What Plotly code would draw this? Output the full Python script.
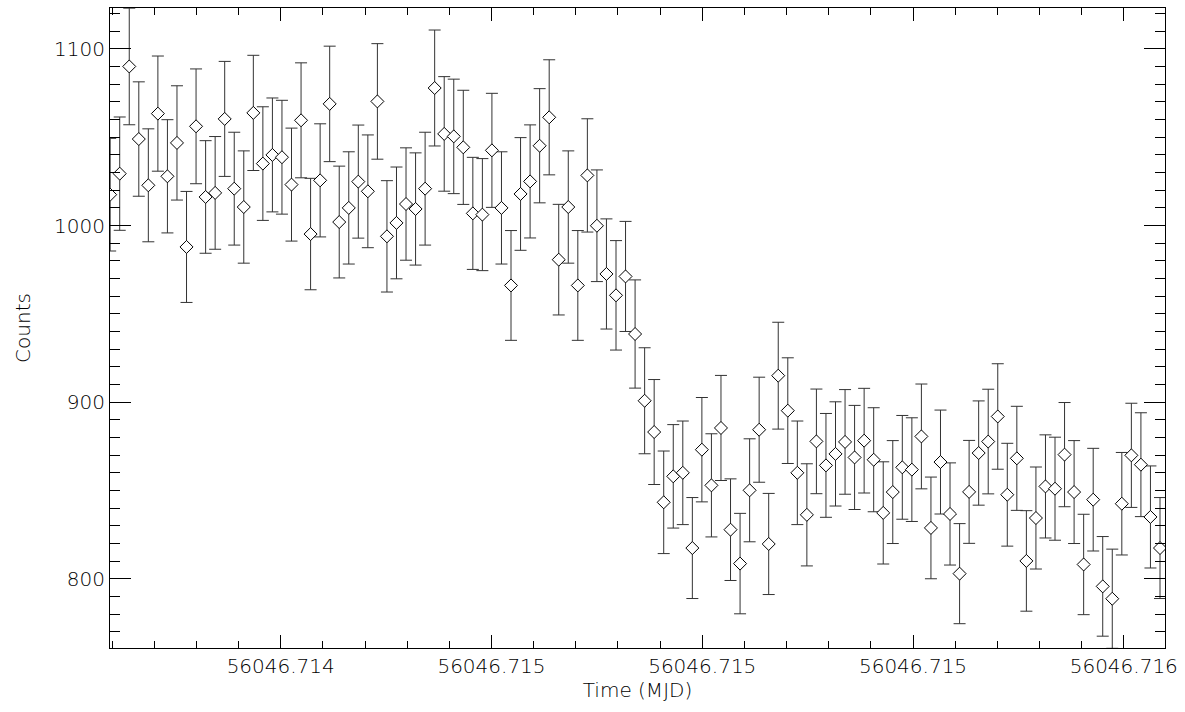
import numpy as np
import plotly.graph_objects as go

# Light curve: counts per time bin
counts = [
    1017.5, 1029.4, 1090.1, 1049.0, 1022.8, 1063.4, 1027.9, 1046.8, 987.9, 1056.2,
    1016.2, 1018.5, 1060.4, 1020.9, 1010.5, 1063.8, 1035.1, 1040.0, 1038.7, 1023.2,
    1059.6, 995.2, 1025.6, 1068.9, 1002.0, 1010.0, 1024.9, 1019.4, 1070.3, 993.9,
    1001.5, 1012.2, 1009.4, 1020.9, 1077.9, 1051.9, 1050.5, 1044.3, 1006.9, 1006.2,
    1042.6, 1010.0, 966.1, 1017.9, 1025.0, 1045.2, 1061.3, 980.7, 1010.5, 966.1,
    1028.4, 999.9, 972.6, 960.5, 971.2, 938.6, 900.8, 883.1, 843.3, 858.0,
    860.0, 817.4, 873.1, 852.9, 885.4, 827.8, 808.6, 850.1, 884.4, 819.7,
    915.0, 895.2, 860.0, 836.2, 877.8, 864.2, 870.7, 877.5, 868.7, 878.2,
    867.4, 837.3, 849.1, 863.1, 861.8, 880.6, 828.8, 866.1, 836.7, 802.9,
    849.2, 871.2, 877.7, 891.9, 847.6, 868.2, 810.1, 834.4, 852.3, 851.0,
    870.3, 849.1, 808.1, 844.8, 795.7, 788.7, 842.5, 869.9, 864.6, 835.0,
    817.4,
]

# Bin start time (MJD) and bin width (days)
T_START = 56046.7142977
T_BIN = 1.13206e-5

# Axis ticks
x_tickvals = [56046.71450, 56046.71475, 56046.71500, 56046.71525, 56046.71550]
x_ticktext = ["56046.714", "56046.715", "56046.715", "56046.715", "56046.716"]
y_tickvals = [800, 900, 1000, 1100]
y_ticktext = ["800", "900", "1000", "1100"]

counts = np.array(counts)
times = T_START + T_BIN * np.arange(len(counts))
errors = np.sqrt(counts)  # Poisson uncertainties

FONT = dict(family="DejaVu Sans", size=20, color="black", weight=200)

fig = go.Figure()
fig.add_trace(go.Scatter(
    x=times,
    y=counts,
    mode="markers",
    marker=dict(symbol="diamond", size=10, color="white",
                line=dict(color="black", width=1)),
    error_y=dict(type="data", array=errors, visible=True,
                 color="#333333", thickness=1, width=6),
    cliponaxis=True,
    showlegend=False,
))

axis_common = dict(
    showline=True, linecolor="black", linewidth=1, mirror="ticks",
    showgrid=False, zeroline=False,
    ticks="inside", tickcolor="black", tickwidth=1,
    tickfont=FONT,
)

fig.update_xaxes(
    range=[56046.7142975, 56046.7155489],
    tickmode="array", tickvals=x_tickvals, ticktext=x_ticktext,
    ticklen=13,
    minor=dict(ticks="inside", ticklen=7, dtick=0.00005,
               tick0=56046.71450, tickcolor="black", tickwidth=1),
    title=dict(text="Time (MJD)", font=FONT, standoff=4),
    **axis_common,
)
fig.update_yaxes(
    range=[760.8, 1123.2],
    tickmode="array", tickvals=y_tickvals, ticktext=y_ticktext,
    ticklen=21,
    minor=dict(ticks="inside", ticklen=10, dtick=10, tick0=800,
               tickcolor="black", tickwidth=1),
    title=dict(text="Counts", font=FONT, standoff=18),
    **axis_common,
)

fig.update_layout(
    width=1185, height=712,
    margin=dict(l=110, r=20, t=8, b=64, autoexpand=False),
    paper_bgcolor="white", plot_bgcolor="white",
    font=FONT,
)

fig.write_html("out.html")
